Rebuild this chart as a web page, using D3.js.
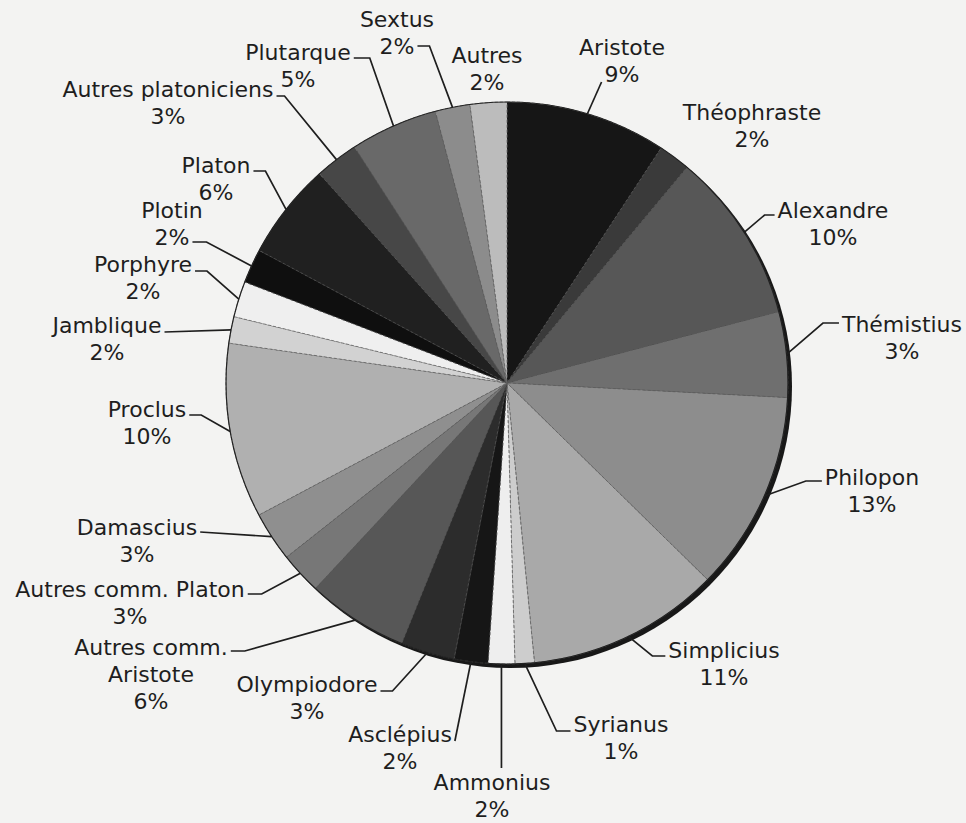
<!DOCTYPE html>
<html>
<head>
<meta charset="utf-8">
<script src="https://cdn.jsdelivr.net/npm/d3@7/dist/d3.min.js"></script>
<style>
  html, body { margin: 0; padding: 0; background: #f3f3f2; }
  svg { display: block; }
  text { font-family: "DejaVu Sans", Verdana, sans-serif; font-size: 22px; fill: #1e1e1e; }
</style>
</head>
<body>
<svg id="chart" width="966" height="823"></svg>
<script>
"use strict";

// slice names, clockwise from 12 o'clock
var names = ["Aristote", "Théophraste", "Alexandre", "Thémistius", "Philopon", "Simplicius",
  "Syrianus", "Ammonius", "Asclépius", "Olympiodore", "Autres comm.\nAristote", "Autres comm. Platon",
  "Damascius", "Proclus", "Jamblique", "Porphyre", "Plotin", "Platon",
  "Autres platoniciens", "Plutarque", "Sextus", "Autres"];

// shares as drawn (in %)
var shares = [9.25, 1.83, 9.86, 4.92, 11.53, 11.11, 1.11, 1.53, 1.94, 3.11, 5.83, 2.42,
  2.86, 10.06, 1.53, 2.06, 1.97, 5.56, 2.5, 5.03, 2.0, 2.11];

// percentages printed on the labels
var printed = ["9%", "2%", "10%", "3%", "13%", "11%", "1%", "2%", "2%", "3%", "6%", "3%",
  "3%", "10%", "2%", "2%", "2%", "6%", "3%", "5%", "2%", "2%"];

var greys = ["#161616", "#3a3a3a", "#575757", "#6f6f6f", "#8d8d8d", "#a9a9a9", "#cdcdcd", "#eeeeee",
  "#161616", "#2c2c2c", "#575757", "#777777", "#8f8f8f", "#b0b0b0", "#d2d2d2", "#efefef",
  "#0f0f0f", "#202020", "#474747", "#696969", "#8c8c8c", "#bcbcbc"];

// label layout: centre x, first baseline, leader (line index, side, stub) or null
var labelX = [622, 752, 833, 902, 872, 724, 621, 492, 400, 307, 151, 130, 137, 147, 107, 143, 172, 216, 168, 298, 397, 487];
var labelY = [55, 120, 218, 332, 485, 658, 732, 790, 742, 692, 655, 597, 535, 417, 333, 272, 218, 173, 97, 60, 27, 63];
var leaders = [
  {line: 1, side: "l", stub: 0, dy: 0}, null,
  {line: 0, side: "l", stub: 10, dy: 3}, {line: 0, side: "l", stub: 16, dy: 9},
  {line: 0, side: "l", stub: 16, dy: 4}, {line: 0, side: "l", stub: 13, dy: 2},
  {line: 0, side: "l", stub: 14, dy: 1}, {vertical: true},
  {line: 0, side: "r", stub: 0, dy: 1}, {line: 0, side: "r", stub: 12, dy: 1},
  {line: 0, side: "r", stub: 14, dy: 4}, {line: 0, side: "r", stub: 14, dy: 3},
  {line: 0, side: "r", stub: 0, dy: 3}, {line: 0, side: "r", stub: 12, dy: 2},
  {line: 0, side: "r", stub: 0, dy: 1}, {line: 0, side: "r", stub: 12, dy: 1},
  {line: 1, side: "r", stub: 14, dy: 3}, {line: 0, side: "r", stub: 12, dy: 2},
  {line: 0, side: "r", stub: 8, dy: 1}, {line: 0, side: "r", stub: 16, dy: 2},
  {line: 1, side: "r", stub: 12, dy: 8}, null
];

var cx = 507, cy = 383, radius = 281, lineH = 27;

var svg = d3.select("#chart");
var g = svg.append("g").attr("transform", "translate(" + cx + "," + cy + ")");

var pie = d3.pie().sort(null).value(function(d) { return d; });
var arcs = pie(shares);
var arc = d3.arc().innerRadius(0).outerRadius(radius);

// drop edge on the lower right
g.append("circle")
  .attr("cx", 3.5).attr("cy", 3.5).attr("r", radius + 0.5)
  .attr("fill", "#181818");

g.selectAll("path.slice")
  .data(arcs)
  .enter().append("path")
  .attr("class", "slice")
  .attr("d", arc)
  .attr("fill", function(d, i) { return greys[i]; })
  .attr("stroke", "#5a5a5a")
  .attr("stroke-width", 0.7)
  .attr("stroke-dasharray", "3,2");

g.append("circle")
  .attr("r", radius)
  .attr("fill", "none")
  .attr("stroke", "#222")
  .attr("stroke-width", 1.2);

// labels
var labels = svg.append("g");

arcs.forEach(function(a, i) {
  var lines = names[i].split("\n").concat([printed[i]]);
  var t = labels.append("text").attr("text-anchor", "middle");
  var spans = lines.map(function(s, k) {
    return t.append("tspan").attr("x", labelX[i]).attr("y", labelY[i] + k * lineH).text(s);
  });

  var ld = leaders[i];
  if (!ld) return;

  var mid = (a.startAngle + a.endAngle) / 2;
  var rx = cx + radius * Math.sin(mid), ry = cy - radius * Math.cos(mid);
  var pts;

  if (ld.vertical) {
    pts = [[rx, labelY[i] - 22], [rx, ry]];
  } else {
    var w = spans[ld.line].node().getComputedTextLength();
    var sy = labelY[i] + ld.line * lineH - ld.dy;
    var sx = ld.side === "l" ? labelX[i] - w / 2 - 3 : labelX[i] + w / 2 + 3;
    var ex = ld.side === "l" ? sx - ld.stub : sx + ld.stub;
    pts = [[sx, sy], [ex, sy], [rx, ry]];
  }

  labels.append("path")
    .attr("d", d3.line()(pts))
    .attr("fill", "none")
    .attr("stroke", "#1e1e1e")
    .attr("stroke-width", 1.7);
});
</script>
</body>
</html>
